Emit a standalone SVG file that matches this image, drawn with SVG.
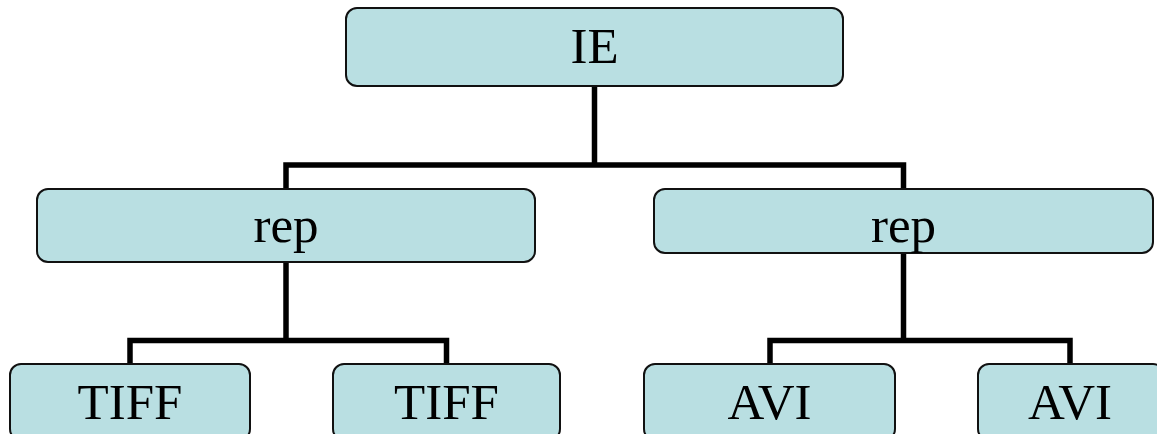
<svg xmlns="http://www.w3.org/2000/svg" width="1157" height="434" viewBox="0 0 1157 434">
<style>
.box{fill:#B9DFE2;stroke:#111;stroke-width:2}
.lbl{font-family:"Liberation Serif","Times New Roman",serif;font-size:51px;fill:#000;text-anchor:middle}
.conn{fill:none;stroke:#000;stroke-width:5.5;stroke-linejoin:miter}
</style>
<rect width="1157" height="434" fill="#fff"/>
<g id="connectors">
<path class="conn" d="M594.5 86 V165"/>
<path class="conn" d="M286 189 V165 H903.5 V189"/>
<path class="conn" d="M286 262 V340.5"/>
<path class="conn" d="M130 364 V340.5 H446.5 V364"/>
<path class="conn" d="M903.5 253 V340.5"/>
<path class="conn" d="M770 364 V340.5 H1070 V364"/>
</g>
<g id="ie"><rect class="box" x="346" y="8" width="497" height="78" rx="11"/><text class="lbl" x="594.5" y="63">IE</text></g>
<g id="rep1"><rect class="box" x="37" y="189" width="498" height="73" rx="11"/><text class="lbl" x="286" y="242">rep</text></g>
<g id="rep2"><rect class="box" x="654" y="189" width="499" height="64" rx="11"/><text class="lbl" x="903.5" y="242">rep</text></g>
<g id="tiff1"><rect class="box" x="10" y="364" width="240" height="76" rx="11"/><text class="lbl" x="130" y="419">TIFF</text></g>
<g id="tiff2"><rect class="box" x="333" y="364" width="227" height="76" rx="11"/><text class="lbl" x="446.5" y="419">TIFF</text></g>
<g id="avi1"><rect class="box" x="644" y="364" width="251" height="76" rx="11"/><text class="lbl" x="769.5" y="419">AVI</text></g>
<g id="avi2"><rect class="box" x="978" y="364" width="186" height="76" rx="11"/><text class="lbl" x="1070" y="419">AVI</text></g>
</svg>
